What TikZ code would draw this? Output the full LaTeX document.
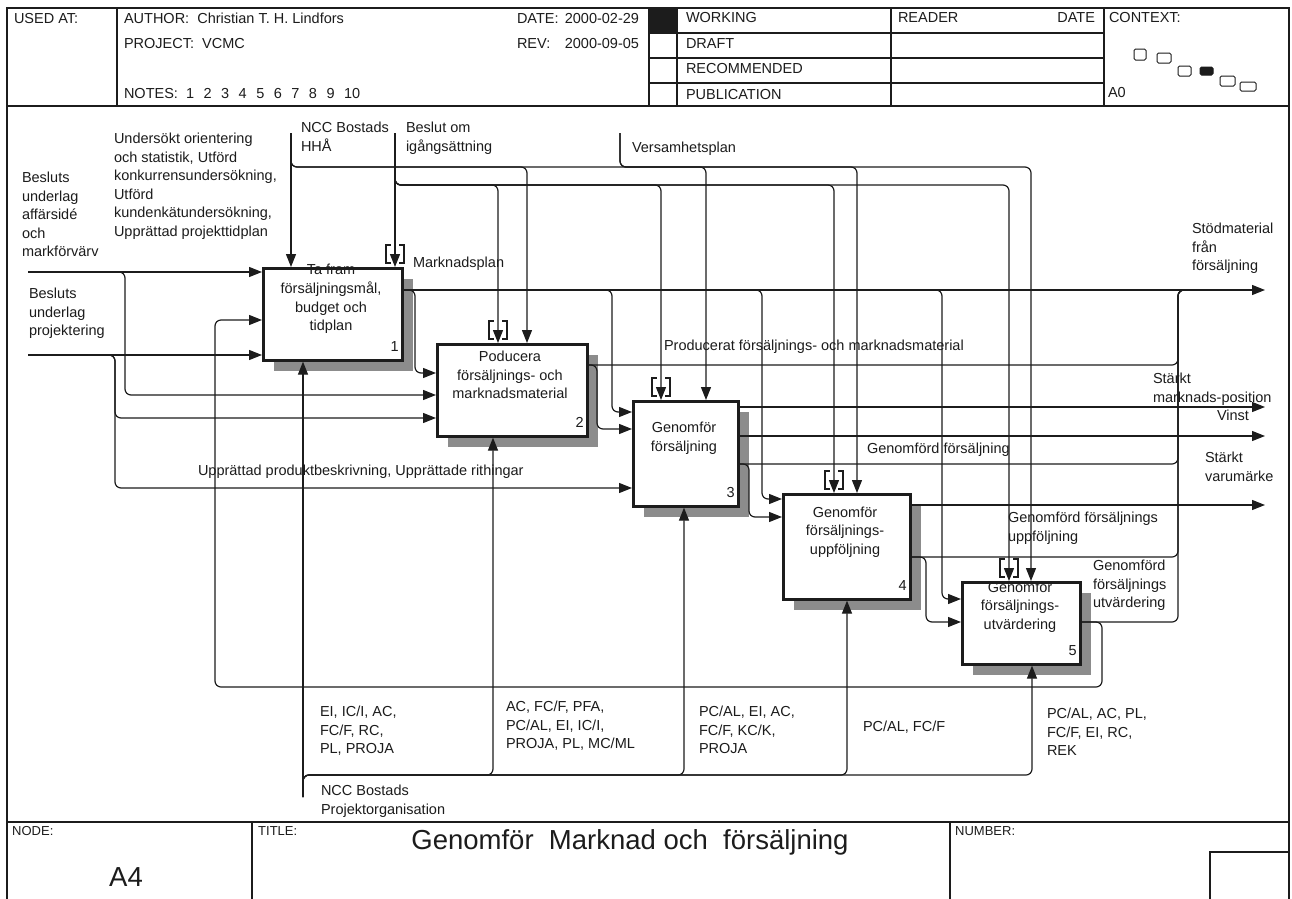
\documentclass[tikz,border=0pt]{standalone}
\usepackage{fontspec}
\setmainfont{Liberation Sans}
\usetikzlibrary{arrows.meta,shadows,calc}
\definecolor{ink}{HTML}{1C1C1C}
\definecolor{shade}{HTML}{8C8C8C}
\tikzset{
  txt/.style={font=\fontsize{14.5}{18.6}\selectfont, text=ink, inner sep=0pt, outer sep=0pt},
  lbl/.style={txt, align=left, anchor=north west},
  one/.style={txt, anchor=base west},
  small/.style={font=\fontsize{13}{16}\selectfont, text=ink, inner sep=0pt, anchor=base west},
  big/.style={font=\fontsize{27.5}{32}\selectfont, text=ink, inner sep=0pt},
  frame/.style={draw=ink, line width=1.3pt},
  actbox/.style={draw=ink, fill=white, line width=2.6pt, anchor=north west, inner sep=0pt,
     general shadow={fill=shade, shadow xshift=11pt, shadow yshift=-11pt}},
  acttext/.style={txt, align=center},
  actnum/.style={txt, anchor=base east},
  flow/.style={draw=ink, line width=1.2pt, rounded corners=6pt},
  arr/.style={flow, -{Triangle[length=13pt,width=10pt]}},
  tunnel/.style={draw=ink, line width=1.2pt},
  ctx/.style={draw=ink, line width=1pt, rounded corners=1.5pt},
}
\newcommand{\ngap}{\hspace{9.5pt}}
\frenchspacing
\begin{document}
\begin{tikzpicture}[x=1pt,y=-1pt]
\useasboundingbox (0,0) rectangle (1292,898);
\clip (0,0) rectangle (1292,898);
\fill[white] (0,0) rectangle (1292,898);

% ---------- sheet frame ----------
\draw[frame] (7,910) -- (7,8) -- (1289,8) -- (1289,910);
\draw[frame] (7,106) -- (1289,106);
\draw[frame] (7,822) -- (1289,822);
% header cells
\draw[frame] (117,8) -- (117,106);
\draw[frame] (649,8) -- (649,106);
\draw[frame] (677,8) -- (677,106);
\draw[frame] (891,8) -- (891,106);
\draw[frame] (1104,8) -- (1104,106);
\draw[frame] (649,33) -- (1104,33);
\draw[frame] (649,58) -- (1104,58);
\draw[frame] (649,83) -- (1104,83);
\fill[ink] (649,8) rectangle (677,33);
% title block cells
\draw[frame] (252,822) -- (252,910);
\draw[frame] (950,822) -- (950,910);
\draw[frame] (1210,910) -- (1210,852) -- (1289,852);

% ---------- header texts ----------
\node[one] (usedat) at (14,23) {USED AT:};
\node[one] (author) at (124,23) {AUTHOR:\ \ Christian T. H. Lindfors};
\node[one] (project) at (124,48) {PROJECT:\ \ VCMC};
\node[one] (notes) at (124,98) {NOTES:\ \ 1\ngap 2\ngap 3\ngap 4\ngap 5\ngap 6\ngap 7\ngap 8\ngap 9\ngap 10};
\node[one] (datek) at (517,23) {DATE:};
\node[txt, anchor=base east] (datev) at (639,23) {2000-02-29};
\node[one] (revk) at (517,48) {REV:};
\node[txt, anchor=base east] (revv) at (639,48) {2000-09-05};
\node[one] (working) at (686,22) {WORKING};
\node[one] (draft) at (686,48) {DRAFT};
\node[one] (recom) at (686,73) {RECOMMENDED};
\node[one] (publ) at (686,99) {PUBLICATION};
\node[one] (reader) at (898,22) {READER};
\node[txt, anchor=base east] (rdate) at (1095,22) {DATE};
\node[one] (context) at (1109,22) {CONTEXT:};
\node[one] (azero) at (1108,97) {A0};
% context map
\draw[ctx] (1134,49) rectangle (1146,60);
\draw[ctx] (1157,53) rectangle (1171,63);
\draw[ctx] (1178,66) rectangle (1191,76);
\filldraw[ctx, fill=ink] (1200,67) rectangle (1213,75);
\draw[ctx] (1220,76) rectangle (1235,86);
\draw[ctx] (1240,82) rectangle (1256,91);

% ---------- title block texts ----------
\node[small] (nodek) at (12,835) {NODE:};
\node[small] (titlek) at (258,835) {TITLE:};
\node[small] (numk) at (955,835) {NUMBER:};
\node[big] (title) at (630,842) {Genomför\ \ Marknad och\ \ försäljning};
\node[big] (nodenum) at (126,877) {A4};

% ---------- activities ----------
\node[actbox, minimum width=139pt, minimum height=92pt] (b1) at (262,267) {};
\node[actbox, minimum width=150pt, minimum height=92pt] (b2) at (436,343) {};
\node[actbox, minimum width=105pt, minimum height=105pt] (b3) at (632,400) {};
\node[actbox, minimum width=127pt, minimum height=105pt] (b4) at (782,493) {};
\node[actbox, minimum width=118pt, minimum height=82pt] (b5) at (961,581) {};

\node[acttext] (b1t) at (331,299) {Ta fram\\försäljningsmål,\\budget och\\tidplan};
\node[acttext] (b2t) at (510,375) {Poducera\\försäljnings- och\\marknadsmaterial};
\node[acttext] (b3t) at (684,438) {Genomför\\försäljning};
\node[acttext] (b4t) at (845,532) {Genomför\\försäljnings-\\uppföljning};
\node[acttext] (b5t) at (1020,607) {Genomför\\försäljnings-\\utvärdering};

\node[actnum] (b1n) at ($(b1.south east)+(-5,-10)$) {1};
\node[actnum] (b2n) at ($(b2.south east)+(-5,-10)$) {2};
\node[actnum] (b3n) at ($(b3.south east)+(-5,-10)$) {3};
\node[actnum] (b4n) at ($(b4.south east)+(-5,-10)$) {4};
\node[actnum] (b5n) at ($(b5.south east)+(-5,-10)$) {5};

% ---------- free ends ----------
\coordinate (iA) at (28,272);
\coordinate (iB) at (28,355);
\coordinate (cN) at (291,133);
\coordinate (cB) at (395,133);
\coordinate (cV) at (620,133);
\coordinate (mN) at (303,797);
\coordinate (outS) at (1265,290);
\coordinate (outM) at (1265,407);
\coordinate (outV) at (1265,436);
\coordinate (outW) at (1265,505);
\coordinate (o1) at (b1.east |- 0,290);
\coordinate (o2) at (b2.east |- 0,365);
\coordinate (o3) at (b3.east |- 0,464);
\coordinate (o4) at (b4.east |- 0,557);
\coordinate (o5) at (b5.east |- 0,622);

% ---------- inputs ----------
\draw[arr] (iA) -- (iA -| b1.west);
\draw[arr] (iA) -| (125,395) -- (b2.west |- 0,395);
\draw[arr] (iB) -- (iB -| b1.west);
\draw[arr] (iB) -| (115,418) -- (b2.west |- 0,418);
\draw[arr] (iB) -| (115,488) -- (b3.west |- 0,488);
% feedback from activity 5
\draw[arr] (o5) -| (1102,687) -| (215,320) -- (b1.west |- 0,320);

% ---------- outputs ----------
\draw[arr] (o1) -- (outS);
\draw[arr] (o1) -| (415,373) -- (b2.west |- 0,373);
\draw[arr] (o1) -| (612,412) -- (b3.west |- 0,412);
\draw[arr] (o1) -| (762,499) -- (b4.west |- 0,499);
\draw[arr] (o1) -| (942,599) -- (b5.west |- 0,599);

\draw[flow] (o2) -| (1178,290) -- (1200,290);
\draw[arr] (o2) -| (597,429) -- (b3.west |- 0,429);

\draw[arr] (b3.east |- outM) -- (outM);
\draw[arr] (b3.east |- outV) -- (outV);
\draw[flow] (o3) -| (1178,290) -- (1200,290);
\draw[arr] (o3) -| (749,517) -- (b4.west |- 0,517);

\draw[arr] (b4.east |- outW) -- (outW);
\draw[flow] (o4) -| (1178,290) -- (1200,290);
\draw[arr] (o4) -| (926,622) -- (b5.west |- 0,622);

\draw[flow] (o5) -| (1178,290) -- (1200,290);

% ---------- controls ----------
\draw[arr] (cN) -- (cN |- b1.north);
\draw[arr] (cN) |- (527,167) -- (527,0 |- b2.north);
\draw[arr] (cN) |- (706,167) -- (706,0 |- b3.north);
\draw[arr] (cV) |- (857,167) -- (857,0 |- b4.north);
\draw[arr] (cV) |- (1031,167) -- (1031,0 |- b5.north);

\draw[arr] (cB) -- (cB |- b1.north);
\draw[arr] (cB) |- (498,185) -- (498,0 |- b2.north);
\draw[arr] (cB) |- (661,185) -- (661,0 |- b3.north);
\draw[arr] (cB) |- (834,185) -- (834,0 |- b4.north);
\draw[arr] (cB) |- (1009,185) -- (1009,0 |- b5.north);

% tunnelled arrow brackets
\foreach \bx/\bn in {395/b1, 498/b2, 661/b3, 834/b4, 1009/b5}{
  \coordinate (tp) at (\bx,0 |- \bn.north);
  \draw[tunnel] ($(tp)+(-4,-4)$) -- ++(-5,0) -- ++(0,-18) -- ++(5,0);
  \draw[tunnel] ($(tp)+(4,-4)$) -- ++(5,0) -- ++(0,-18) -- ++(-5,0);
}

% ---------- mechanisms ----------
\draw[arr] (mN) -- (mN |- b1.south);
\draw[arr] (mN) |- (493,775) -- (493,0 |- b2.south);
\draw[arr] (mN) |- (684,775) -- (684,0 |- b3.south);
\draw[arr] (mN) |- (847,775) -- (847,0 |- b4.south);
\draw[arr] (mN) |- (1032,775) -- (1032,0 |- b5.south);

% ---------- arrow labels ----------
\node[lbl] (lA) at (22,172) {Besluts\\underlag\\affärsidé\\och\\markförvärv};
\node[lbl] (lB) at (29,288) {Besluts\\underlag\\projektering};
\node[lbl] (lU) at (114,133) {Undersökt orientering\\och statistik, Utförd\\konkurrensundersökning,\\Utförd\\kundenkätundersökning,\\Upprättad projekttidplan};
\node[lbl] (lN) at (301,122) {NCC Bostads\\HHÅ};
\node[lbl] (lBe) at (406,122) {Beslut om\\igångsättning};
\node[one] (lV) at (632,152) {Versamhetsplan};
\node[one] (lM) at (413,267) {Marknadsplan};
\node[one] (lP) at (664,350) {Producerat försäljnings- och marknadsmaterial};
\node[one] (lUp) at (198,475) {Upprättad produktbeskrivning, Upprättade rithingar};
\node[lbl] (lS) at (1192,223) {Stödmaterial\\från\\försäljning};
\node[lbl] (lSm) at (1153,373) {Stärkt\\marknads-position};
\node[one] (lVi) at (1217,420) {Vinst};
\node[lbl] (lSv) at (1205,452) {Stärkt\\varumärke};
\node[one] (lG) at (867,453) {Genomförd försäljning};
\node[lbl] (lGu) at (1008,512) {Genomförd försäljnings\\uppföljning};
\node[lbl] (lGv) at (1093,560) {Genomförd\\försäljnings\\utvärdering};
\node[lbl] (m1) at (320,706) {EI, IC/I, AC,\\FC/F, RC,\\PL, PROJA};
\node[lbl] (m2) at (506,701) {AC, FC/F, PFA,\\PC/AL, EI, IC/I,\\PROJA, PL, MC/ML};
\node[lbl] (m3) at (699,706) {PC/AL, EI, AC,\\FC/F, KC/K,\\PROJA};
\node[one] (m4) at (863,731) {PC/AL, FC/F};
\node[lbl] (m5) at (1047,708) {PC/AL, AC, PL,\\FC/F, EI, RC,\\REK};
\node[lbl] (lNP) at (321,785) {NCC Bostads\\Projektorganisation};
\end{tikzpicture}
\end{document}
